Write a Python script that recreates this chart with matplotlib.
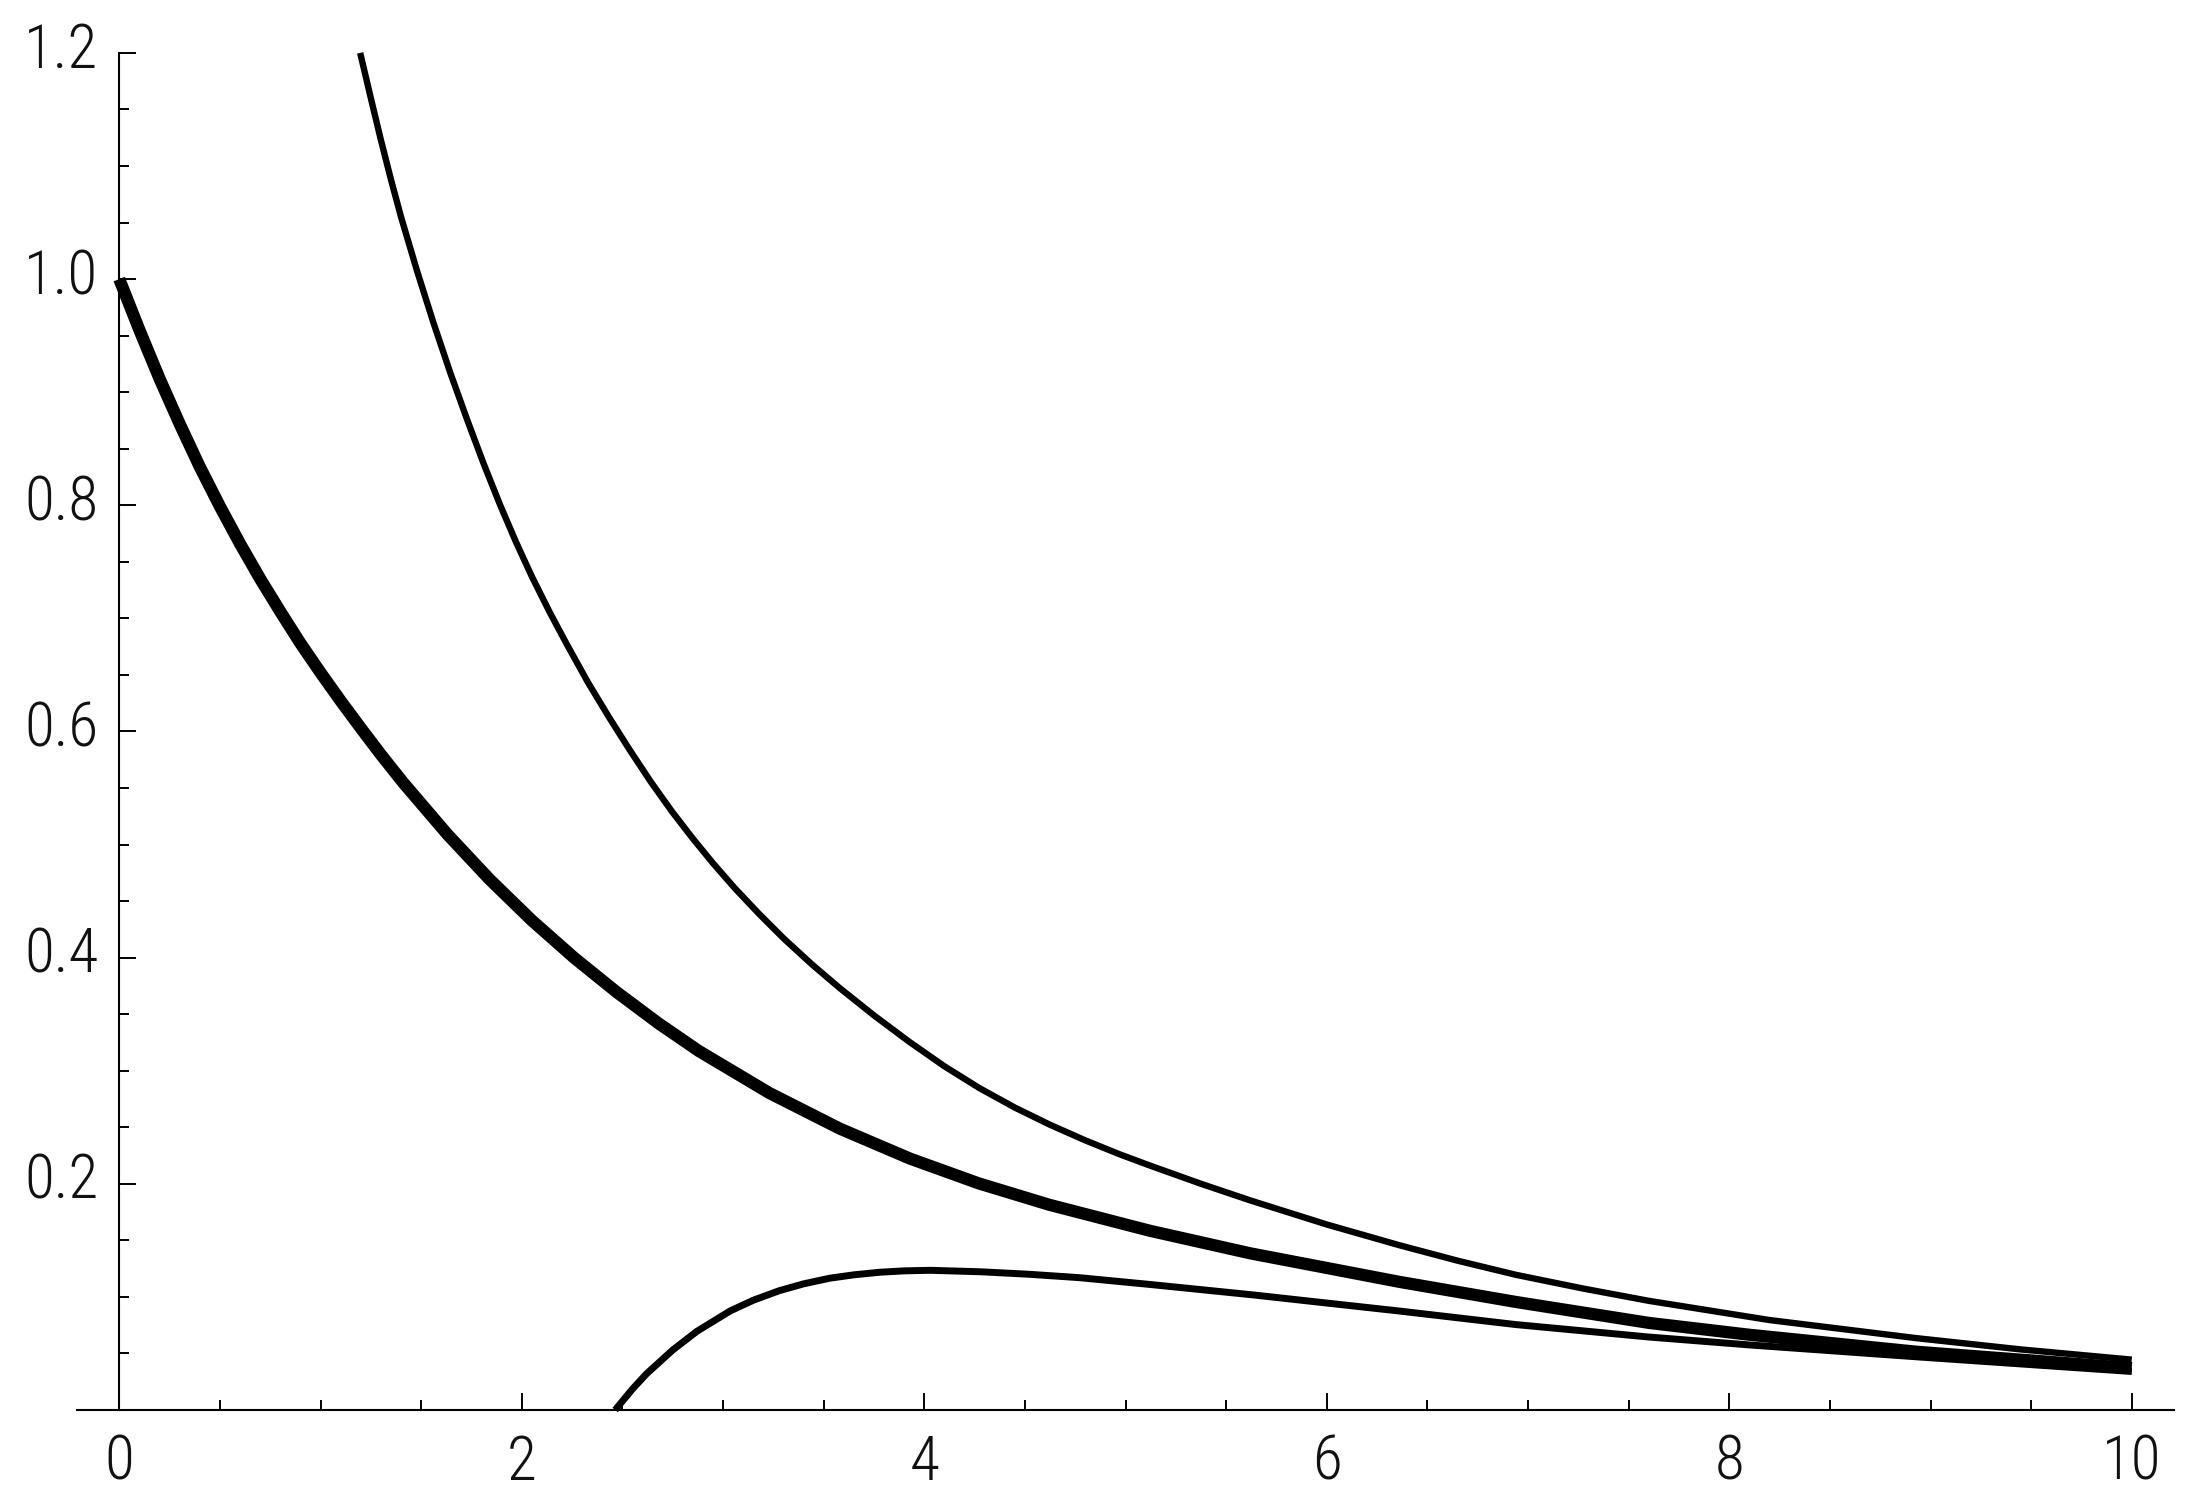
import matplotlib
matplotlib.use("Agg")
import matplotlib.pyplot as plt
import matplotlib.transforms as mtransforms
from matplotlib.ticker import MultipleLocator, FormatStrFormatter

# ---------------- data ----------------
# thick curve, starts at (0, 1)
thick_x = [0.0, 0.1, 0.2, 0.3, 0.4, 0.5, 0.6, 0.7, 0.8, 0.9, 1.0, 1.1, 1.2, 1.3,
           1.41, 1.63, 1.84, 2.05, 2.26, 2.47, 2.68, 2.88, 3.23, 3.58, 3.93,
           4.27, 4.62, 5.12, 5.62, 6.36, 6.94, 7.6, 8.1, 8.93, 10.0]
thick_y = [1.0, 0.955, 0.912, 0.872, 0.834, 0.799, 0.766, 0.735, 0.706, 0.678, 0.652, 0.627,
           0.603, 0.5795, 0.5549, 0.5091, 0.4692, 0.4329, 0.3999, 0.3697, 0.3418, 0.3174,
           0.2803, 0.2488, 0.2222, 0.2004, 0.1815, 0.1585, 0.1385, 0.1133, 0.0955, 0.077,
           0.0665, 0.0515, 0.037]

# upper thin curve, comes in from the top at x ~ 1.2
upper_x = [1.197, 1.25, 1.30, 1.35, 1.40, 1.48, 1.56, 1.645, 1.73, 1.81, 1.893, 1.97,
           2.05, 2.14, 2.224, 2.33, 2.432, 2.535, 2.641, 2.745, 2.849, 2.95, 3.058, 3.18,
           3.301, 3.44, 3.579, 3.75, 3.926, 4.10, 4.274, 4.45, 4.621, 4.8, 4.969, 5.12,
           5.37, 5.62, 6.0, 6.36, 6.65, 6.94, 7.27, 7.6, 8.2, 8.93, 9.45, 10.0]
upper_y = [1.200, 1.160, 1.123, 1.088, 1.055, 1.007, 0.962, 0.917, 0.875, 0.837, 0.800, 0.768,
           0.737, 0.705, 0.677, 0.643, 0.613, 0.584, 0.5555, 0.5295, 0.5055, 0.4835, 0.4615,
           0.4385, 0.417, 0.3943, 0.3732, 0.3489, 0.3255, 0.3039, 0.2846, 0.2674, 0.2525,
           0.2384, 0.2262, 0.2162, 0.2003, 0.1853, 0.164, 0.1457, 0.132, 0.1195, 0.1075,
           0.0965, 0.0795, 0.0635, 0.0535, 0.0445]

# lower thin curve, rises from the axis at x ~ 2.46
lower_x = [2.464, 2.55, 2.62, 2.75, 2.87, 3.035, 3.15, 3.28, 3.4, 3.53, 3.65, 3.78, 3.9,
           4.03, 4.28, 4.52, 4.77, 5.12, 5.62, 6.36, 6.94, 7.6, 8.1, 8.93, 10.0]
lower_y = [0.0, 0.0185, 0.032, 0.053, 0.0695, 0.0875, 0.097, 0.1055, 0.1115, 0.1165, 0.1195,
           0.1218, 0.123, 0.1235, 0.1222, 0.120, 0.117, 0.111, 0.102, 0.0875, 0.0755, 0.0645,
           0.0575, 0.047, 0.034]

x_major = [0, 2, 4, 6, 8, 10]
y_major = [0.2, 0.4, 0.6, 0.8, 1.0, 1.2]

# ---------------- figure ----------------
plt.rcParams['font.family'] = ['Roboto Condensed', 'Liberation Sans Narrow', 'DejaVu Sans']
plt.rcParams['font.stretch'] = 'condensed'
plt.rcParams['font.weight'] = 'light'

fig = plt.figure(figsize=(21.94, 15.03), dpi=100)
ax = fig.add_axes([0.0351, 0.0619, 0.9558, 0.9029])

ax.plot(thick_x, thick_y, color='k', lw=8.8, clip_on=False, solid_capstyle='butt')
ax.plot(upper_x, upper_y, color='k', lw=4.6, clip_on=False, solid_capstyle='butt')
ax.plot(lower_x, lower_y, color='k', lw=5.0, clip_on=False, solid_capstyle='butt')

ax.set_xlim(-0.21, 10.21)
ax.set_ylim(0, 1.2)

for s in ['top', 'right']:
    ax.spines[s].set_visible(False)
ax.spines['left'].set_position(('data', 0))
ax.spines['left'].set_linewidth(1.5)
ax.spines['bottom'].set_linewidth(1.5)

ax.set_xticks(x_major)
ax.set_yticks(y_major)
ax.xaxis.set_minor_locator(MultipleLocator(0.5))
ax.yaxis.set_minor_locator(MultipleLocator(0.05))
ax.xaxis.set_major_formatter(FormatStrFormatter('%d'))
ax.yaxis.set_major_formatter(FormatStrFormatter('%.1f'))

ax.tick_params(which='major', direction='in', length=12, width=1.4,
               labelsize=44, pad=17, labelcolor='#111111')
ax.tick_params(which='minor', direction='in', length=7, width=1.4)
ax.tick_params(axis='y', which='major', pad=15)

# labels sit a little above their ticks on the y axis
shift = mtransforms.ScaledTranslation(0, 8 / 100, fig.dpi_scale_trans)
for lab in ax.get_yticklabels():
    lab.set_transform(lab.get_transform() + shift)

fig.savefig('out.png', dpi=100, facecolor='white')
